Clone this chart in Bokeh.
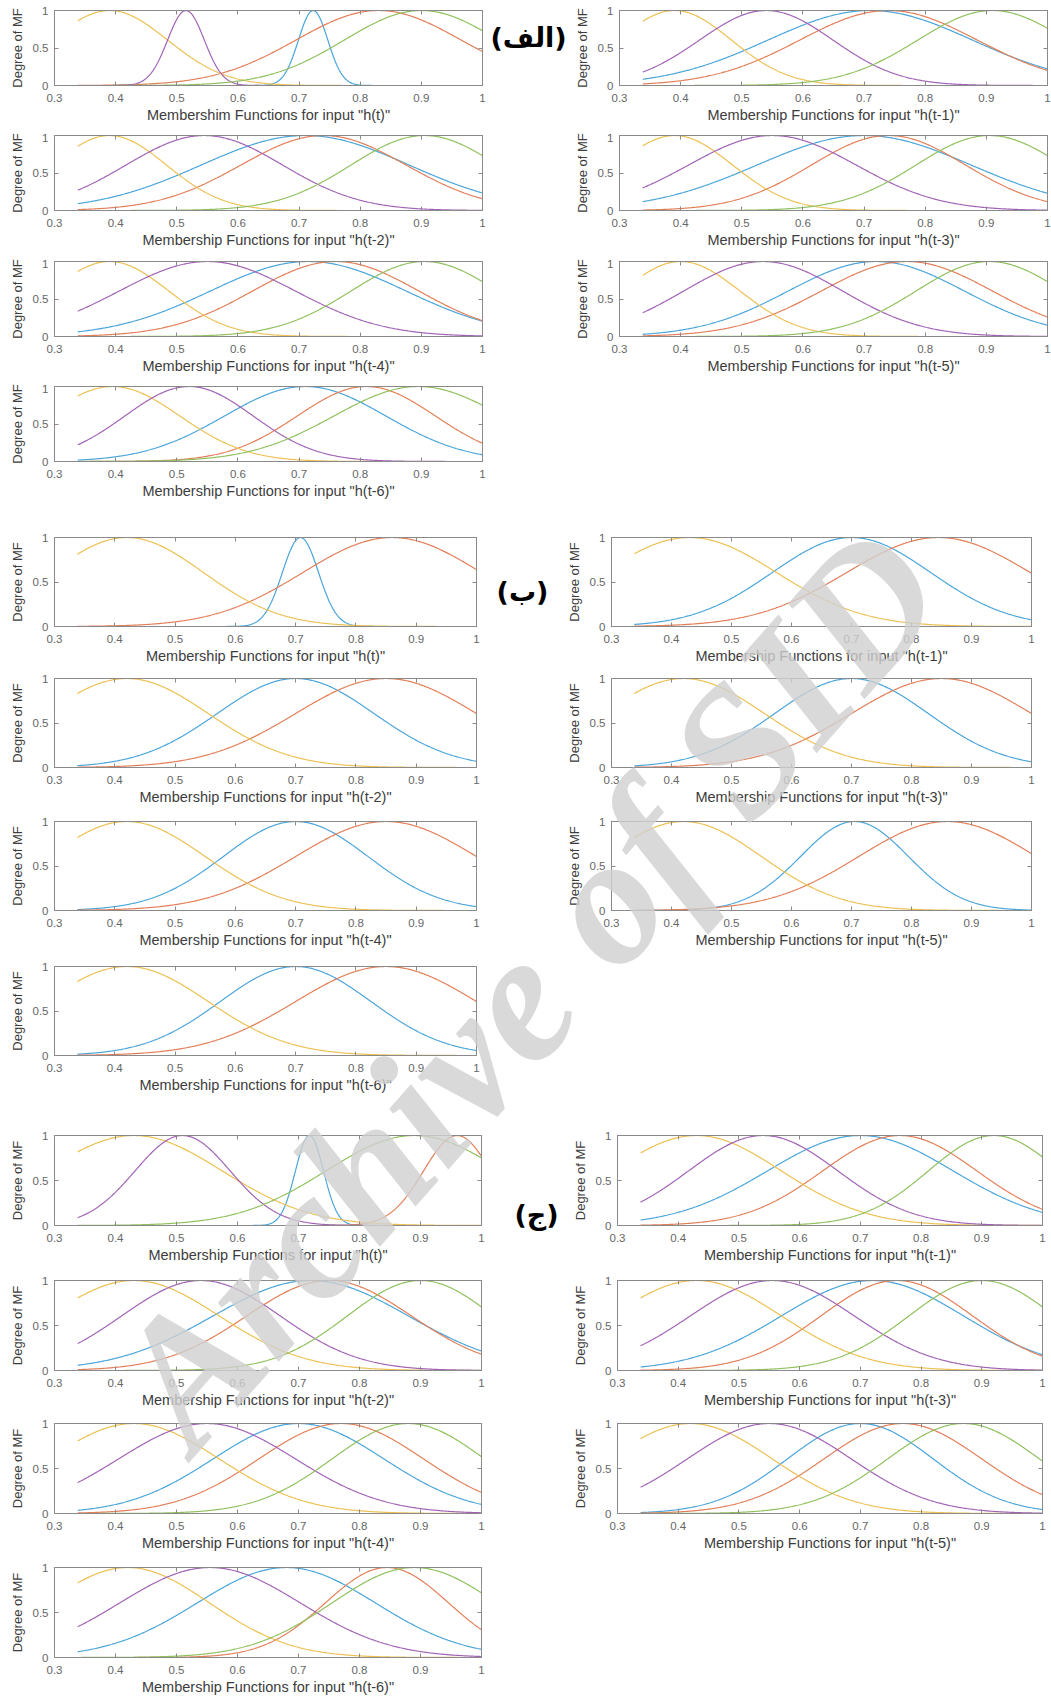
import math
import numpy as np
from bokeh.plotting import figure
from bokeh.models import Label, LinearAxis, FixedTicker, CustomJSTickFormatter, Range1d, Spacer
from bokeh.layouts import column, row
from bokeh.embed import file_html
from bokeh.resources import INLINE

# ---------------- data ----------------
# MF order as drawn by MATLAB plotmf: mf1 (blue), mf2 (orange), mf3 (yellow), mf4 (purple), mf5 (green)
MF_COLORS = ["#4aa5da", "#e27f58", "#edc052", "#a263b6", "#90c15e"]
X_TICKS = [0.3, 0.4, 0.5, 0.6, 0.7, 0.8, 0.9, 1.0]
Y_TICKS = [0, 0.5, 1]
INPUT_RANGE = [0.338, 1.0]

INPUTS = ["h(t)", "h(t-1)", "h(t-2)", "h(t-3)", "h(t-4)", "h(t-5)", "h(t-6)"]
G1_XLABELS = ['Membershim Functions for input "h(t)"'] + ['Membership Functions for input "%s"' % s for s in INPUTS[1:]]
G2_XLABELS = ['Membership Functions for input "%s"' % s for s in INPUTS]
G3_XLABELS = ['Membership Functions for input "%s"' % s for s in INPUTS]

# Gaussian MF centres / widths, one list per input
G1_CENTERS = [
    [0.723, 0.83, 0.39, 0.515, 0.90],
    [0.71, 0.74, 0.39, 0.54, 0.91],
    [0.71, 0.74, 0.39, 0.545, 0.905],
    [0.70, 0.74, 0.39, 0.55, 0.905],
    [0.715, 0.76, 0.39, 0.55, 0.905],
    [0.72, 0.77, 0.40, 0.535, 0.905],
    [0.71, 0.81, 0.395, 0.52, 0.895],
]
G1_SIGMAS = [
    [0.024, 0.135, 0.095, 0.030, 0.126],
    [0.167, 0.145, 0.093, 0.109, 0.122],
    [0.17, 0.135, 0.093, 0.128, 0.12],
    [0.175, 0.126, 0.095, 0.137, 0.12],
    [0.16, 0.136, 0.097, 0.144, 0.12],
    [0.144, 0.14, 0.097, 0.13, 0.12],
    [0.132, 0.113, 0.11, 0.105, 0.138],
]
G2_CENTERS = [
    [0.708, 0.86, 0.42],
    [0.70, 0.845, 0.43],
    [0.70, 0.85, 0.42],
    [0.70, 0.85, 0.42],
    [0.70, 0.85, 0.42],
    [0.705, 0.86, 0.42],
    [0.70, 0.85, 0.42],
]
G2_SIGMAS = [
    [0.030, 0.148, 0.127],
    [0.132, 0.153, 0.145],
    [0.13, 0.15, 0.135],
    [0.128, 0.15, 0.135],
    [0.12, 0.15, 0.13],
    [0.09, 0.148, 0.13],
    [0.125, 0.15, 0.135],
]
G3_CENTERS = [
    [0.718, 0.96, 0.43, 0.51, 0.89],
    [0.70, 0.765, 0.43, 0.54, 0.92],
    [0.72, 0.75, 0.43, 0.54, 0.90],
    [0.72, 0.76, 0.43, 0.555, 0.90],
    [0.70, 0.77, 0.43, 0.55, 0.88],
    [0.70, 0.77, 0.42, 0.55, 0.87],
    [0.68, 0.845, 0.42, 0.555, 0.89],
]
G3_SIGMAS = [
    [0.023, 0.055, 0.145, 0.078, 0.145],
    [0.153, 0.127, 0.14, 0.123, 0.108],
    [0.16, 0.135, 0.14, 0.13, 0.12],
    [0.15, 0.125, 0.14, 0.135, 0.12],
    [0.14, 0.135, 0.14, 0.145, 0.125],
    [0.12, 0.13, 0.135, 0.135, 0.125],
    [0.146, 0.101, 0.134, 0.148, 0.135],
]
GROUP_TAGS = ["(الف)", "(ب)", "(ج)"]
WATERMARK = "Archive of SID"

# ---------------- layout / style ----------------
FONT = "Liberation Sans"
FRAME_COLOR = "#8a8a8a"
PAGE_W, PAGE_H = 1051, 1701

GROUPS = [
    dict(centers=G1_CENTERS, sigmas=G1_SIGMAS, labels=G1_XLABELS,
         split=570, lf=(54, 482), rf=(619, 1047), canvas=[0, 133, 259, 384, 520],
         frames=[(10, 85), (135, 210), (261, 336), (386, 461)]),
    dict(centers=G2_CENTERS, sigmas=G2_SIGMAS, labels=G2_XLABELS,
         split=556, lf=(54, 476), rf=(611, 1031), canvas=[520, 672, 815, 960, 1125],
         frames=[(537, 626), (678, 767), (821, 910), (966, 1055)]),
    dict(centers=G3_CENTERS, sigmas=G3_SIGMAS, labels=G3_XLABELS,
         split=568, lf=(54, 481), rf=(617, 1042), canvas=[1125, 1274, 1417, 1561, PAGE_H],
         frames=[(1135, 1225), (1280, 1370), (1423, 1513), (1567, 1657)]),
]
TAG_POS = [(528, 37), (522, 591), (536, 1214)]
WM_POS, WM_ANGLE, WM_SIZE = (527, 986), 48.5, 184
TICK_SD, LAB_SD = 8, 2


def fmt():
    return CustomJSTickFormatter(code="return String(Math.round(tick*10)/10);")


def mf_panel(left, top, w, h, fl, fr, ft, fb, xlabel, centers, sigmas):
    p = figure(width=w, height=h, x_range=Range1d(0.3, 1.0), y_range=Range1d(0, 1),
               output_backend="svg", toolbar_location=None,
               min_border_left=fl - left, min_border_right=left + w - fr,
               min_border_top=ft - top, min_border_bottom=top + h - fb)
    p.grid.visible = False
    p.outline_line_color = FRAME_COLOR
    x = np.linspace(INPUT_RANGE[0], INPUT_RANGE[1], 400)
    for c, s, col in zip(centers, sigmas, MF_COLORS):
        p.line(x, np.exp(-(x - c) ** 2 / (2 * s * s)), line_color=col, line_width=1.2)

    for ax, ticks in ((p.xaxis[0], X_TICKS), (p.yaxis[0], Y_TICKS)):
        ax.ticker = FixedTicker(ticks=ticks)
        ax.formatter = fmt()
        ax.major_tick_in = 4
        ax.major_tick_out = 0
        ax.minor_tick_in = 0
        ax.minor_tick_out = 0
        ax.axis_line_color = FRAME_COLOR
        ax.major_tick_line_color = FRAME_COLOR
        ax.major_label_text_font = FONT
        ax.major_label_text_font_size = "11.5px"
        ax.major_label_text_color = "#666666"
        ax.axis_label_text_font = FONT
        ax.axis_label_text_font_style = "normal"
        ax.axis_label_text_color = "#3c3c3c"
    p.xaxis.axis_label = xlabel
    p.xaxis.axis_label_text_font_size = "14.5px"
    p.xaxis.major_label_standoff = TICK_SD
    p.xaxis.axis_label_standoff = LAB_SD
    p.yaxis.axis_label = "Degree of MF"
    p.yaxis.axis_label_text_font_size = "13px"
    p.yaxis.major_label_standoff = 6
    p.yaxis.axis_label_standoff = 5

    for side, ticks in (("above", X_TICKS), ("right", Y_TICKS)):
        p.add_layout(LinearAxis(ticker=FixedTicker(ticks=ticks), major_label_text_font_size="1px",
                                major_label_text_color=None, major_label_standoff=0,
                                major_tick_in=4, major_tick_out=0,
                                minor_tick_in=0, minor_tick_out=0, axis_line_color=FRAME_COLOR,
                                major_tick_line_color=FRAME_COLOR, formatter=fmt()), side)
    return p


rows = []
for g in GROUPS:
    for r in range(4):
        top, bot = g["canvas"][r], g["canvas"][r + 1]
        h = bot - top
        ft, fb = g["frames"][r]
        wl = g["split"]
        wr = PAGE_W - g["split"]
        i_left, i_right = 2 * r, 2 * r + 1
        pl = mf_panel(0, top, wl, h, g["lf"][0], g["lf"][1], ft, fb,
                      g["labels"][i_left], g["centers"][i_left], g["sigmas"][i_left])
        if i_right < 7:
            pr = mf_panel(g["split"], top, wr, h, g["rf"][0], g["rf"][1], ft, fb,
                          g["labels"][i_right], g["centers"][i_right], g["sigmas"][i_right])
        else:
            pr = Spacer(width=wr, height=h)
        rows.append(row(pl, pr, spacing=0))

grid = column(*rows, spacing=0)

# transparent full-page overlay for the group tags and the watermark
overlay = figure(width=PAGE_W, height=PAGE_H, x_range=Range1d(0, PAGE_W), y_range=Range1d(PAGE_H, 0),
                 output_backend="svg", toolbar_location=None, x_axis_type=None, y_axis_type=None,
                 min_border=0, margin=(-PAGE_H, 0, 0, 0))
overlay.outline_line_color = None
overlay.background_fill_color = None
overlay.border_fill_color = None
for tag, (tx, ty) in zip(GROUP_TAGS, TAG_POS):
    overlay.add_layout(Label(x=tx, y=ty, x_units="canvas", y_units="canvas", text=tag,
                             text_font="DejaVu Sans", text_font_style="bold", text_font_size="27px",
                             text_color="black", text_align="center", text_baseline="middle"))
overlay.add_layout(Label(x=WM_POS[0], y=WM_POS[1], x_units="canvas", y_units="canvas",
                         text=WATERMARK, angle=WM_ANGLE, angle_units="deg",
                         text_font="Liberation Serif", text_font_style="bold italic",
                         text_font_size="%dpx" % WM_SIZE, text_color="#cfcfcf", text_alpha=0.8,
                         text_align="center", text_baseline="middle"))

layout = column(grid, overlay, spacing=0)
open("out.html", "w").write(file_html(layout, INLINE))
